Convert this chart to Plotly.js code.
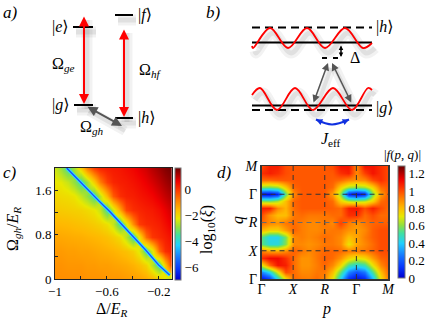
<!DOCTYPE html>
<html>
<head>
<meta charset="utf-8">
<script src="https://cdn.plot.ly/plotly-3.0.1.min.js"></script>
<style>
  html, body { margin: 0; padding: 0; background: #fff; }
  #fig { width: 436px; height: 327px; }
</style>
</head>
<body>
<div id="fig"></div>
<script>
// ---------- panel c: log10(xi) over detuning / coupling ----------
const deltaVals = [-1, -0.95, -0.9, -0.85, -0.8, -0.75, -0.7, -0.65, -0.6, -0.55,
  -0.5, -0.45, -0.4, -0.35, -0.3, -0.25, -0.2, -0.15, -0.1];
const omegaVals = [0, 0.25, 0.5, 0.75, 1, 1.25, 1.5, 1.75, 2];
const logXi = [
  [-1.0, -1.0, -1.0, -1.0, -1.0, -1.05, -1.05, -1.05, -1.1, -1.1, -1.1, -1.15, -1.2, -1.25, -1.35, -1.5, -1.8, -2.3, -2.8],
  [-1.05, -1.05, -1.1, -1.1, -1.1, -1.15, -1.15, -1.2, -1.2, -1.25, -1.3, -1.35, -1.45, -1.6, -1.9, -2.6, -3.5, -1.7, 0.0],
  [-1.15, -1.15, -1.2, -1.2, -1.25, -1.25, -1.3, -1.35, -1.4, -1.45, -1.55, -1.65, -1.85, -2.3, -3.3, -2.4, -0.6, 0.1, 0.3],
  [-1.3, -1.32, -1.35, -1.38, -1.4, -1.45, -1.5, -1.55, -1.65, -1.8, -2.05, -2.6, -3.5, -2.2, -0.6, 0.0, 0.15, 0.3, 0.5],
  [-1.5, -1.52, -1.55, -1.6, -1.65, -1.7, -1.8, -1.9, -2.1, -2.5, -3.5, -2.4, -1.0, -0.05, 0.15, 0.2, 0.3, 0.5, 0.75],
  [-1.75, -1.78, -1.82, -1.86, -1.9, -2.0, -2.15, -2.5, -3.5, -2.5, -1.3, -0.2, 0.1, 0.2, 0.3, 0.35, 0.5, 0.7, 0.95],
  [-1.95, -2.0, -2.05, -2.15, -2.5, -2.9, -3.5, -2.6, -1.5, -0.4, 0.1, 0.25, 0.3, 0.4, 0.5, 0.6, 0.8, 1.0, 1.2],
  [-2.2, -2.25, -2.5, -2.9, -3.5, -2.8, -1.8, -0.8, -0.1, 0.2, 0.3, 0.35, 0.45, 0.55, 0.7, 0.85, 1.05, 1.25, 1.45],
  [-2.45, -2.85, -3.5, -2.8, -1.8, -0.8, -0.1, 0.2, 0.3, 0.35, 0.4, 0.5, 0.6, 0.75, 0.9, 1.1, 1.3, 1.5, 1.65]
];
// the sharp minimum (blue line)
const dipDelta = [-0.91, -0.82, -0.74, -0.654, -0.58, -0.5, -0.41, -0.3, -0.2, -0.115];
const dipOmega = [2.0, 1.78, 1.6, 1.39, 1.22, 1.02, 0.8, 0.52, 0.25, 0.07];

const cXTicks = [-1, -0.8, -0.6, -0.4, -0.2];
const cXLabels = ["\u22121", "", "\u22120.6", "", "\u22120.2"];
const cYTicks = [0, 0.4, 0.8, 1.2, 1.6];
const cYLabels = ["0", "", "0.8", "", "1.6"];
const cBarTicks = [0, -2, -4, -6];
const cBarLabels = ["0", "\u22122", "\u22124", "\u22126"];

// ---------- panel d: |f(p,q)| along the path ----------
const pathVals = [0, 0.25, 0.5, 0.75, 1, 1.25, 1.5, 1.75, 2, 2.25, 2.5, 2.75, 3, 3.25, 3.5, 3.75, 4];
const fAbs = [
  [0.03, 0.12, 0.42, 0.72, 0.95, 0.93, 0.92, 0.95, 0.9, 0.72, 0.4, 0.1, 0.03, 0.08, 0.35, 0.72, 0.93],
  [0.28, 0.42, 0.7, 1.0, 0.95, 0.9, 0.9, 0.93, 0.93, 0.8, 0.55, 0.28, 0.18, 0.25, 0.52, 0.8, 0.96],
  [0.7, 0.95, 1.1, 1.08, 0.95, 0.88, 0.88, 0.92, 0.96, 0.9, 0.75, 0.52, 0.45, 0.5, 0.72, 0.9, 0.98],
  [1.05, 1.12, 1.12, 1.05, 0.95, 0.88, 0.88, 0.93, 0.97, 0.95, 0.88, 0.76, 0.7, 0.74, 0.86, 0.96, 0.98],
  [0.92, 0.86, 0.85, 0.9, 0.97, 0.93, 0.9, 0.93, 0.96, 0.96, 0.95, 0.92, 0.92, 0.93, 0.96, 1.0, 1.0],
  [0.55, 0.45, 0.45, 0.6, 0.9, 0.9, 0.88, 0.9, 0.93, 0.93, 0.9, 0.72, 0.85, 0.9, 0.95, 1.0, 1.0],
  [0.55, 0.42, 0.42, 0.58, 0.9, 0.92, 0.9, 0.92, 0.95, 0.93, 0.9, 0.8, 0.85, 0.92, 0.97, 1.0, 1.0],
  [0.82, 0.76, 0.76, 0.86, 0.96, 0.92, 0.9, 0.9, 0.92, 0.93, 0.93, 0.88, 0.86, 0.9, 0.97, 1.0, 1.0],
  [0.95, 0.9, 0.88, 0.93, 0.95, 0.92, 0.9, 0.9, 0.93, 0.9, 1.02, 0.92, 0.88, 0.93, 0.96, 0.97, 0.97],
  [1.0, 0.88, 0.8, 0.8, 0.93, 0.95, 0.93, 0.93, 0.93, 0.95, 0.95, 1.05, 1.05, 0.95, 1.0, 0.95, 0.95],
  [1.08, 1.08, 0.9, 0.82, 0.95, 0.98, 0.98, 0.98, 0.98, 0.97, 0.95, 1.08, 1.1, 1.0, 1.08, 1.0, 0.95],
  [0.6, 0.58, 0.64, 0.8, 0.96, 0.98, 0.98, 0.98, 0.98, 0.95, 0.76, 0.66, 0.63, 0.66, 0.76, 0.95, 0.98],
  [0.02, 0.02, 0.08, 0.55, 0.9, 0.98, 0.98, 0.98, 0.98, 0.86, 0.6, 0.08, 0.02, 0.08, 0.58, 0.86, 0.98],
  [0.6, 0.58, 0.62, 0.78, 0.96, 0.98, 0.98, 0.98, 0.98, 0.95, 0.76, 0.64, 0.61, 0.64, 0.76, 0.95, 0.98],
  [0.95, 0.95, 0.97, 0.98, 0.98, 0.98, 0.98, 0.98, 0.98, 0.97, 0.95, 0.9, 0.88, 0.9, 1.0, 1.05, 1.0],
  [1.05, 1.08, 1.05, 1.0, 0.98, 0.98, 0.98, 0.98, 0.98, 0.98, 1.05, 1.08, 0.9, 1.02, 1.1, 1.05, 1.0],
  [1.0, 1.08, 1.08, 1.0, 0.98, 0.98, 0.98, 0.98, 0.98, 1.0, 1.1, 1.1, 0.9, 1.1, 1.1, 1.05, 1.0]
];
const pathTicks = [0, 1, 2, 3, 4];
const pathLabels = ["\u0393", "<i>X</i>", "<i>R</i>", "\u0393", "<i>M</i>"];
const dBarTicks = [0, 0.2, 0.4, 0.6, 0.8, 1, 1.2];
const dBarLabels = ["0", "0.2", "0.4", "0.6", "0.8", "1", "1.2"];

// ---------- panels a, b: level schemes (page pixels) ----------
const levelsA = [[73, 93, 27], [115, 133, 15], [74, 93, 105], [115, 133, 118]];
const redArrowsA = [[84, 15, 84, 104], [124, 28, 124, 117]];
const greyArrowA = [86, 106, 122, 126];

const solidB = [[252, 372, 42.5], [252, 372, 105.5]];
const dashedB = [[252, 372, 27.5], [252, 372, 110]];
const virtualB = [322, 340, 58];
const waveUpX = [252, 253, 270, 288, 307, 325, 345, 363, 372];
const waveUpY = [46, 48, 28, 48, 28, 48, 28, 48, 43];
const waveLoX = [252, 260, 277, 295, 313, 333, 352, 368, 372];
const waveLoY = [95, 88, 110, 88, 110, 88, 110, 88, 90];
const hopArrowsB = [[313, 104, 328, 63], [352, 104, 332, 63]];
const deltaArrowB = [341, 44, 341, 57];
const arcX = [316, 332, 349];
const arcY = [119.5, 124.5, 119.5];

const W = 436, H = 327;
const serif = "'Liberation Serif', 'DejaVu Serif', serif";

const rainbow = [
  [0.00, "#0000d0"], [0.10, "#0838ff"], [0.20, "#1878ff"], [0.31, "#20d0ff"],
  [0.40, "#40e0a0"], [0.47, "#90e040"], [0.55, "#e8e800"], [0.63, "#ffb800"],
  [0.71, "#ff8000"], [0.79, "#ff4000"], [0.88, "#f00000"], [1.00, "#6a0000"]
];

function segs(list) {
  const x = [], y = [];
  list.forEach(([x0, x1, yy]) => { x.push(x0, x1, null); y.push(yy, yy, null); });
  return { x, y };
}

function px(trace) {
  return Object.assign({ xaxis: "x", yaxis: "y", mode: "lines", hoverinfo: "skip", showlegend: false }, trace);
}

// soft drop shadow: two wide translucent copies, shifted down-right
function shadow(x, y, w) {
  const sx = x.map(v => v === null ? null : v + 3);
  const sy = y.map(v => v === null ? null : v + 5);
  return [
    px({ x: sx, y: sy, line: { color: "rgba(0,0,0,0.05)", width: w + 6, shape: "spline" } }),
    px({ x: sx, y: sy, line: { color: "rgba(0,0,0,0.07)", width: w, shape: "spline" } })
  ];
}

function arrow(a, color, width, size, side) {
  return {
    xref: "x", yref: "y", axref: "x", ayref: "y",
    x: a[2], y: a[3], ax: a[0], ay: a[1], text: "",
    showarrow: true, arrowside: side || "end+start",
    arrowhead: 2, startarrowhead: 2, arrowsize: size, startarrowsize: size,
    arrowwidth: width, arrowcolor: color, standoff: 0, startstandoff: 0
  };
}

function label(text, x, y, size, extra) {
  return Object.assign({
    xref: "x", yref: "y", x, y, text, showarrow: false,
    font: { family: serif, size, color: "#000" }
  }, extra || {});
}

const lvA = segs(levelsA);
const sB = segs(solidB);
const dB = segs(dashedB);

const traces = [
  {
    type: "heatmap", x: deltaVals, y: omegaVals, z: logXi,
    xaxis: "x2", yaxis: "y2", zsmooth: "best", zmin: -7, zmax: 1.7,
    colorscale: rainbow, hoverinfo: "skip",
    colorbar: {
      x: 175 / W, xanchor: "left", y: 1 - 224 / H, yanchor: "middle",
      len: 112 / H, thickness: 6, xpad: 0, ypad: 0,
      outlinewidth: 1, outlinecolor: "#777",
      tickvals: cBarTicks, ticktext: cBarLabels, ticks: "",
      tickfont: { family: serif, size: 13, color: "#000" }
    }
  },
  {
    type: "scatter", x: dipDelta, y: dipOmega, xaxis: "x2", yaxis: "y2",
    mode: "lines", line: { color: "#30d8ff", width: 3.5 }, hoverinfo: "skip", showlegend: false
  },
  {
    type: "scatter", x: dipDelta, y: dipOmega, xaxis: "x2", yaxis: "y2",
    mode: "lines", line: { color: "#1848ff", width: 1.3 }, hoverinfo: "skip", showlegend: false
  },
  {
    type: "heatmap", x: pathVals, y: pathVals, z: fAbs,
    xaxis: "x3", yaxis: "y3", zsmooth: "best", zmin: 0, zmax: 1.29,
    colorscale: rainbow, hoverinfo: "skip",
    colorbar: {
      x: 398 / W, xanchor: "left", y: 1 - 222 / H, yanchor: "middle",
      len: 112 / H, thickness: 7, xpad: 0, ypad: 0,
      outlinewidth: 1, outlinecolor: "#777",
      tickvals: dBarTicks, ticktext: dBarLabels, ticks: "",
      tickfont: { family: serif, size: 13, color: "#000" }
    }
  },
  // panel a
  ...shadow(lvA.x, lvA.y, 5),
  ...shadow([84, 84, null, 124, 124], [15, 104, null, 28, 117], 5),
  ...shadow([86, 122], [106, 126], 4),
  px({ x: lvA.x, y: lvA.y, line: { color: "#000", width: 2 } }),
  // panel b
  ...shadow(waveUpX, waveUpY, 5),
  ...shadow(waveLoX, waveLoY, 5),
  ...shadow([313, 328, null, 352, 332], [104, 63, null, 104, 63], 4),
  px({ x: sB.x, y: sB.y, line: { color: "#000", width: 1.8 } }),
  px({ x: dB.x, y: dB.y, line: { color: "#000", width: 1.8, dash: "8px,5px" } }),
  px({ x: [virtualB[0], virtualB[1]], y: [virtualB[2], virtualB[2]], line: { color: "#000", width: 1.8, dash: "5px,6px" } }),
  px({ x: waveUpX, y: waveUpY, line: { color: "#ff0000", width: 1.8, shape: "spline", smoothing: 1 } }),
  px({ x: waveLoX, y: waveLoY, line: { color: "#ff0000", width: 1.8, shape: "spline", smoothing: 1 } }),
  px({ x: arcX, y: arcY, line: { color: "#1030e0", width: 2, shape: "spline" } })
];

const annotations = [
  label("<i>a)</i>", 10, 12, 17),
  label("<i>b)</i>", 213, 12, 17),
  label("<i>c)</i>", 10, 172, 17),
  label("<i>d)</i>", 224, 172, 17),
  label("|<i>e</i>\u27E9", 71, 27, 16, { xanchor: "right" }),
  label("|<i>f</i>\u27E9", 136, 15, 16, { xanchor: "left" }),
  label("|<i>g</i>\u27E9", 71, 105, 16, { xanchor: "right" }),
  label("|<i>h</i>\u27E9", 136, 118, 16, { xanchor: "left" }),
  label("\u03A9<sub><i>ge</i></sub>", 63, 64, 16),
  label("\u03A9<sub><i>hf</i></sub>", 150, 70, 16),
  label("\u03A9<sub><i>gh</i></sub>", 91, 127, 16),
  label("|<i>h</i>\u27E9", 374, 27, 16, { xanchor: "left" }),
  label("|<i>g</i>\u27E9", 374, 108, 16, { xanchor: "left" }),
  label("\u0394", 355, 57, 16),
  label("<i>J</i><sub>eff</sub>", 331, 139, 16),
  arrow(redArrowsA[0], "#ff0000", 2, 1),
  arrow(redArrowsA[1], "#ff0000", 2, 1),
  arrow(greyArrowA, "#555", 2, 1),
  arrow(hopArrowsB[0], "#555", 1.5, 1),
  arrow(hopArrowsB[1], "#555", 1.5, 1),
  arrow(deltaArrowB, "#000", 1.5, 0.6),
  arrow([arcX[0] + 5, arcY[0] + 2.3, arcX[0], arcY[0]], "#1030e0", 1.6, 0.8, "end"),
  arrow([arcX[2] - 5, arcY[2] + 2.3, arcX[2], arcY[2]], "#1030e0", 1.6, 0.8, "end"),
  // axis titles
  label("\u0394/<i>E</i><sub><i>R</i></sub>", 112, 309, 16),
  label("\u03A9<sub><i>gh</i></sub>/<i>E</i><sub><i>R</i></sub>", 13, 229, 16, { textangle: -90 }),
  label("log<sub>10</sub>(<i>\u03BE</i>)", 207, 230, 16, { textangle: -90 }),
  label("<i>p</i>", 326, 309, 16),
  label("<i>q</i>", 238, 220, 16, { textangle: -90 }),
  label("|<i>f</i>(<i>p</i>, <i>q</i>)|", 402, 154, 13)
];

const gridLines = [];
[1, 2, 3].forEach(v => {
  const col = v === 2 ? "#6a6a6a" : "#333";
  gridLines.push({ type: "line", xref: "x3", yref: "y3", x0: v, x1: v, y0: 0, y1: 4, layer: "above",
    line: { color: "#333", width: 1, dash: "5px,4px" } });
  gridLines.push({ type: "line", xref: "x3", yref: "y3", x0: 0, x1: 4, y0: v, y1: v, layer: "above",
    line: { color: col, width: 1, dash: "5px,4px" } });
});

const tickFont = { family: serif, size: 13, color: "#000" };
const frame = { showline: true, mirror: true, linecolor: "#222", linewidth: 1, showgrid: false, zeroline: false, fixedrange: true };

const layout = {
  width: W, height: H,
  margin: { l: 0, r: 0, t: 0, b: 0 },
  paper_bgcolor: "#fff",
  plot_bgcolor: "rgba(0,0,0,0)",
  showlegend: false,
  xaxis: { domain: [0, 1], range: [0, W], visible: false, fixedrange: true },
  yaxis: { domain: [0, 1], range: [H, 0], visible: false, fixedrange: true },
  xaxis2: Object.assign({}, frame, {
    domain: [55 / W, 171.7 / W], anchor: "y2", range: [-1, -0.1],
    tickvals: cXTicks, ticktext: cXLabels, ticks: "inside", ticklen: 3, tickcolor: "#222",
    tickfont: tickFont
  }),
  yaxis2: Object.assign({}, frame, {
    domain: [1 - 279 / H, 1 - 168 / H], anchor: "x2", range: [0, 2],
    tickvals: cYTicks, ticktext: cYLabels, ticks: "inside", ticklen: 3, tickcolor: "#222",
    tickfont: tickFont
  }),
  xaxis3: Object.assign({}, frame, {
    domain: [261.5 / W, 388 / W], anchor: "y3", range: [0, 4],
    tickvals: pathTicks, ticktext: pathLabels, ticks: "", ticklabelstandoff: -3,
    tickfont: Object.assign({}, tickFont, { size: 14 }),
    linecolor: "#333", linewidth: 1.5
  }),
  yaxis3: Object.assign({}, frame, {
    domain: [1 - 279 / H, 1 - 166 / H], anchor: "x3", range: [0, 4],
    tickvals: pathTicks, ticktext: pathLabels, ticks: "", tickfont: Object.assign({}, tickFont, { size: 14 }),
    linecolor: "#333", linewidth: 1.5
  }),
  shapes: gridLines,
  annotations
};

Plotly.newPlot("fig", traces, layout, { displayModeBar: false, staticPlot: true });
</script>
</body>
</html>
